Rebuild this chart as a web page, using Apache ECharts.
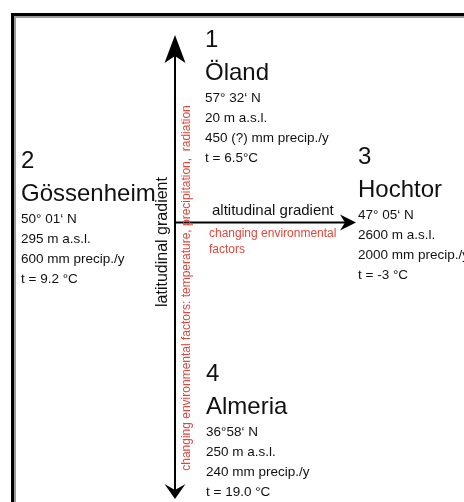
<!DOCTYPE html>
<html>
<head>
<meta charset="utf-8">
<style>
  html, body { margin: 0; padding: 0; background: #ffffff; }
  #chart { width: 464px; height: 502px; }
</style>
<script src="https://cdn.jsdelivr.net/npm/echarts@6/dist/echarts.min.js"></script>
</head>
<body>
<div id="chart"></div>
<script>
// ---- data ----
var siteNumbers = ['1', '2', '3', '4'];
var siteNames = ['Öland', 'Gössenheim', 'Hochtor', 'Almeria'];
var latitudes = ['57° 32‘ N', '50° 01‘ N', '47° 05‘ N', '36°58‘ N'];
var elevations = ['20 m a.s.l.', '295 m a.s.l.', '2600 m a.s.l.', '250 m a.s.l.'];
var precipitation = ['450 (?) mm precip./y', '600 mm precip./y', '2000 mm precip./y', '240 mm precip./y'];
var temperatures = ['t = 6.5°C', 't = 9.2 °C', 't = -3 °C', 't = 19.0 °C'];
var axisLabels = ['latitudinal gradient', 'altitudinal gradient'];
var factorLabels = ['changing environmental factors: temperature, precipitation,  radiation', 'changing environmental\nfactors'];

// ---- layout (positions only) ----
var FONT = '"Liberation Sans", Arial, sans-serif';
var RED = '#e0473b';
var INK = '#111111';
// [left x, number centre y] for each site
var blockPos = [[205, 40], [21, 161], [358, 157], [206, 374]];

var chart = echarts.init(document.getElementById('chart'), null, { renderer: 'canvas' });
var g = [];

// frame (black with grey shadow)
g.push({ type: 'polyline', shape: { points: [[15, 510], [15, 17], [470, 17]] }, style: { stroke: '#9a9a9a', lineWidth: 2, fill: null } });
g.push({ type: 'polyline', shape: { points: [[12.5, 510], [12.5, 14.5], [470, 14.5]] }, style: { stroke: '#000', lineWidth: 3, fill: null } });

// vertical axis with arrow heads
g.push({ type: 'line', shape: { x1: 175, y1: 55, x2: 175, y2: 490 }, style: { stroke: '#000', lineWidth: 2 } });
g.push({ type: 'polygon', shape: { points: [[175, 35], [164.5, 63], [175, 56], [185.5, 63]] }, style: { fill: '#000' } });
g.push({ type: 'polygon', shape: { points: [[175, 499], [164.5, 484], [175, 490], [185.5, 484]] }, style: { fill: '#000' } });

// horizontal axis with arrow head
g.push({ type: 'line', shape: { x1: 175, y1: 222.5, x2: 346, y2: 222.5 }, style: { stroke: '#000', lineWidth: 2 } });
g.push({ type: 'polygon', shape: { points: [[356, 222.5], [340, 214.5], [345, 222.5], [340, 230.5]] }, style: { fill: '#000' } });

// axis labels
g.push({ type: 'text', x: 163, y: 242, rotation: Math.PI / 2,
  style: { text: axisLabels[0], font: '16px ' + FONT, fill: INK, align: 'center', verticalAlign: 'middle' } });
g.push({ type: 'text', x: 212, y: 211,
  style: { text: axisLabels[1], font: '15px ' + FONT, fill: INK, align: 'left', verticalAlign: 'middle' } });

// factor labels (red)
g.push({ type: 'text', x: 187, y: 288, rotation: Math.PI / 2,
  style: { text: factorLabels[0], font: '12px ' + FONT, fill: RED, align: 'center', verticalAlign: 'middle' } });
g.push({ type: 'text', x: 209, y: 226,
  style: { text: factorLabels[1], font: '12px ' + FONT, fill: RED, align: 'left', verticalAlign: 'top', lineHeight: 16 } });

// site blocks
for (var i = 0; i < siteNames.length; i++) {
  var x = blockPos[i][0], y0 = blockPos[i][1];
  g.push({ type: 'text', x: x, y: y0, style: { text: siteNumbers[i], font: '24px ' + FONT, fill: INK, align: 'left', verticalAlign: 'middle' } });
  g.push({ type: 'text', x: x, y: y0 + 33, style: { text: siteNames[i], font: '24px ' + FONT, fill: INK, align: 'left', verticalAlign: 'middle' } });
  var lines = [latitudes[i], elevations[i], precipitation[i], temperatures[i]];
  for (var k = 0; k < lines.length; k++) {
    g.push({ type: 'text', x: x, y: y0 + 58 + k * 20,
      style: { text: lines[k], font: '13.5px ' + FONT, fill: INK, align: 'left', verticalAlign: 'middle' } });
  }
}

chart.setOption({ backgroundColor: '#ffffff', animation: false, graphic: { elements: g } });
</script>
</body>
</html>
